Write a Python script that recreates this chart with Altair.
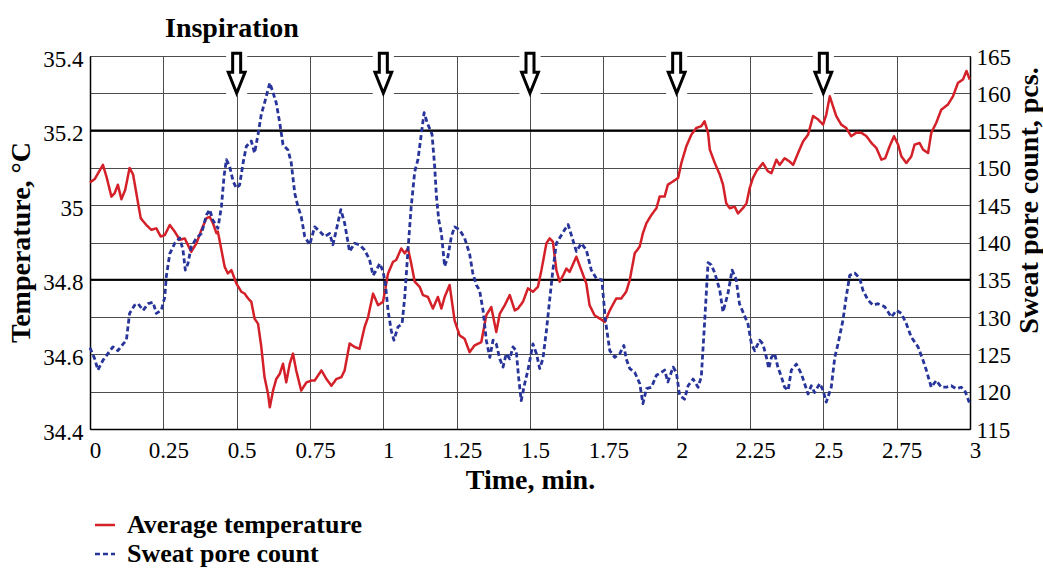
import altair as alt
import pandas as pd

# ---- average skin temperature (degC) over time (min) ----
temp_time = [
    0.000, 0.016, 0.044, 0.056, 0.073, 0.084, 0.095, 0.107, 0.120, 0.135,
    0.147, 0.164, 0.173, 0.192, 0.209, 0.226, 0.241, 0.255, 0.272, 0.289,
    0.306, 0.323, 0.345, 0.363, 0.380, 0.397, 0.408, 0.419, 0.431, 0.436,
    0.448, 0.459, 0.470, 0.482, 0.499, 0.516, 0.527, 0.539, 0.550, 0.561,
    0.573, 0.584, 0.595, 0.607, 0.613, 0.624, 0.635, 0.647, 0.658, 0.669,
    0.681, 0.692, 0.703, 0.720, 0.738, 0.755,
    0.766, 0.789, 0.806, 0.823, 0.840, 0.857, 0.868, 0.885, 0.902, 0.919,
    0.936, 0.948, 0.965, 0.982, 0.999, 1.016, 1.033, 1.044, 1.061, 1.073,
    1.084, 1.095, 1.107, 1.124, 1.135, 1.152, 1.169, 1.186, 1.198, 1.209,
    1.226, 1.243, 1.260, 1.277, 1.294, 1.311, 1.334, 1.351, 1.368, 1.385,
    1.397, 1.414, 1.431, 1.448, 1.459, 1.476, 1.493, 1.510,
    1.527, 1.539, 1.556, 1.567, 1.578, 1.590, 1.601, 1.613, 1.624, 1.635,
    1.658, 1.675, 1.692, 1.703, 1.720, 1.738, 1.755, 1.772, 1.794, 1.811,
    1.828, 1.840, 1.857, 1.874, 1.885, 1.897, 1.914, 1.931, 1.942, 1.959,
    1.970, 1.988, 2.005, 2.016, 2.033, 2.050, 2.067, 2.084, 2.095, 2.107,
    2.113, 2.130, 2.147, 2.158, 2.169, 2.181, 2.198, 2.209, 2.226, 2.238,
    2.249, 2.260,
    2.272, 2.294, 2.311, 2.323, 2.340, 2.351, 2.368, 2.385, 2.397, 2.414,
    2.431, 2.448, 2.465, 2.482, 2.499, 2.510, 2.522, 2.533, 2.544, 2.561,
    2.578, 2.595, 2.612, 2.630, 2.647, 2.664, 2.681, 2.698, 2.711, 2.726,
    2.741, 2.755, 2.766, 2.783, 2.800, 2.811, 2.828, 2.840, 2.857, 2.868,
    2.885, 2.902, 2.925, 2.942, 2.959, 2.976, 2.988, 2.999,
]
temp_value = [
    35.061, 35.070, 35.108, 35.077, 35.023, 35.032, 35.055, 35.016, 35.041, 35.100,
    35.082, 35.005, 34.965, 34.947, 34.934, 34.938, 34.916, 34.920, 34.947, 34.929,
    34.907, 34.911, 34.875, 34.898, 34.934, 34.965, 34.969, 34.952, 34.925, 34.929,
    34.880, 34.835, 34.817, 34.826, 34.790, 34.768, 34.763, 34.750, 34.741, 34.696,
    34.682, 34.620, 34.539, 34.494, 34.458, 34.503, 34.534, 34.548, 34.575, 34.525,
    34.575, 34.602, 34.557, 34.503, 34.525, 34.530,
    34.530, 34.557, 34.534, 34.516, 34.534, 34.539, 34.557, 34.629, 34.620, 34.615,
    34.673, 34.700, 34.763, 34.732, 34.741, 34.817, 34.848, 34.853, 34.884, 34.871,
    34.884, 34.844, 34.795, 34.781, 34.759, 34.754, 34.723, 34.754, 34.723, 34.754,
    34.786, 34.691, 34.651, 34.642, 34.606, 34.624, 34.633, 34.705, 34.727, 34.660,
    34.709, 34.732, 34.759, 34.718, 34.723, 34.741, 34.777, 34.768,
    34.781, 34.826, 34.898, 34.911, 34.902, 34.826, 34.795, 34.812, 34.830, 34.821,
    34.862, 34.826, 34.790, 34.732, 34.705, 34.696, 34.687, 34.718, 34.750, 34.750,
    34.768, 34.799, 34.871, 34.889, 34.925, 34.952, 34.974, 34.992, 35.023, 35.023,
    35.055, 35.064, 35.073, 35.113, 35.158, 35.189, 35.207, 35.212, 35.225, 35.194,
    35.149, 35.113, 35.082, 35.055, 35.005, 34.992, 34.996, 34.978, 34.992, 35.005,
    35.046, 35.073,
    35.091, 35.113, 35.091, 35.086, 35.122, 35.108, 35.126, 35.117, 35.108, 35.140,
    35.171, 35.189, 35.239, 35.230, 35.216, 35.243, 35.292, 35.265, 35.239, 35.216,
    35.207, 35.185, 35.194, 35.194, 35.185, 35.167, 35.153, 35.122, 35.126, 35.158,
    35.185, 35.162, 35.131, 35.113, 35.131, 35.162, 35.167, 35.149, 35.140, 35.194,
    35.221, 35.256, 35.270, 35.292, 35.328, 35.337, 35.360, 35.337,
]

# ---- sweat pore count (pcs.) over time (min) ----
pore_time = [
    0.000, 0.016, 0.027, 0.044, 0.061, 0.078, 0.095, 0.113, 0.124, 0.135,
    0.152, 0.164, 0.181, 0.198, 0.215, 0.226, 0.243, 0.255, 0.260, 0.272,
    0.289, 0.306, 0.317, 0.325, 0.334, 0.345, 0.363, 0.380, 0.397, 0.408,
    0.419, 0.436, 0.448, 0.457, 0.465, 0.476, 0.488, 0.499, 0.510, 0.522,
    0.533, 0.550, 0.561, 0.573, 0.584, 0.595, 0.613, 0.624, 0.635, 0.647,
    0.658, 0.675, 0.686, 0.698, 0.709, 0.720, 0.732, 0.749,
    0.766, 0.783, 0.800, 0.817, 0.828, 0.840, 0.855, 0.868, 0.885, 0.902,
    0.919, 0.936, 0.953, 0.965, 0.976, 0.988, 0.999, 1.007, 1.016, 1.027,
    1.036, 1.050, 1.064, 1.073, 1.084, 1.095, 1.107, 1.118, 1.130, 1.139,
    1.150, 1.166, 1.175, 1.181, 1.189, 1.198, 1.209, 1.220, 1.232, 1.243,
    1.260, 1.277, 1.294, 1.305, 1.317, 1.328, 1.340, 1.351, 1.363, 1.374,
    1.385, 1.397, 1.408, 1.419, 1.431, 1.442, 1.453, 1.461, 1.470, 1.482,
    1.493,
    1.510, 1.522, 1.533, 1.544, 1.556, 1.567, 1.578, 1.590, 1.601, 1.618,
    1.630, 1.641, 1.658, 1.675, 1.692, 1.709, 1.726, 1.745, 1.757, 1.772,
    1.789, 1.806, 1.820, 1.828, 1.840, 1.857, 1.874, 1.885, 1.897, 1.914,
    1.931, 1.948, 1.959, 1.970, 1.988, 1.999, 2.010, 2.027, 2.039, 2.056,
    2.073, 2.084, 2.095, 2.107, 2.118, 2.130, 2.147, 2.158, 2.175, 2.189,
    2.203, 2.214, 2.230, 2.243,
    2.255, 2.266, 2.283, 2.294, 2.306, 2.314, 2.323, 2.334, 2.345, 2.357,
    2.368, 2.380, 2.391, 2.408, 2.425, 2.436, 2.448, 2.459, 2.470, 2.488,
    2.499, 2.510, 2.527, 2.539, 2.550, 2.567, 2.578, 2.590, 2.607, 2.624,
    2.635, 2.652, 2.669, 2.686, 2.709, 2.732, 2.749, 2.766, 2.783, 2.800,
    2.823, 2.840, 2.851, 2.868, 2.885, 2.902, 2.919, 2.936, 2.953, 2.970,
    2.982, 2.999,
]
pore_value = [
    125.9, 124.4, 122.9, 124.2, 125.1, 126.0, 125.5, 126.4, 126.9, 130.5,
    131.6, 131.8, 130.9, 131.8, 132.0, 130.5, 130.9, 132.7, 135.4, 138.5,
    139.9, 140.6, 139.0, 136.3, 137.2, 139.4, 140.6, 141.2, 143.7, 144.4,
    143.0, 141.9, 144.8, 148.9, 151.1, 150.2, 148.2, 147.3, 147.7, 150.7,
    152.9, 153.6, 152.0, 154.5, 157.2, 158.7, 161.4, 160.1, 158.7, 156.0,
    153.1, 152.4, 150.7, 146.6, 144.8, 143.5, 140.8, 139.7,
    142.1, 141.5, 140.8, 141.2, 139.7, 141.7, 144.4, 142.6, 138.8, 139.9,
    139.7, 139.0, 137.7, 135.6, 136.3, 137.2, 136.1, 134.5, 130.9, 128.2,
    126.9, 128.7, 129.1, 132.7, 139.0, 144.8, 149.5, 151.1, 154.7, 157.4,
    156.0, 154.5, 150.2, 146.2, 143.0, 141.2, 136.8, 138.1, 140.8, 142.1,
    141.7, 140.6, 138.5, 135.9, 134.3, 133.6, 130.9, 126.9, 124.6, 126.9,
    126.4, 124.4, 123.3, 125.1, 124.4, 126.0, 125.5, 122.0, 118.8, 121.1,
    122.9,
    126.4, 125.1, 123.1, 124.4, 128.2, 132.3, 136.3, 139.9, 140.6, 141.7,
    142.4, 141.0, 138.8, 139.9, 139.0, 136.3, 135.2, 135.0, 129.6, 125.5,
    124.6, 125.1, 126.2, 124.4, 123.1, 122.6, 121.1, 118.4, 120.4, 120.6,
    122.2, 122.6, 122.9, 121.3, 123.3, 122.6, 119.5, 119.0, 120.8, 121.7,
    120.6, 122.0, 129.1, 137.3, 137.0, 135.9, 133.6, 130.7, 133.2, 136.3,
    135.0, 131.8, 130.3, 129.1,
    126.4, 125.5, 126.9, 126.4, 124.6, 123.1, 124.6, 125.1, 123.3, 122.0,
    120.6, 120.2, 122.9, 123.7, 122.4, 121.1, 119.7, 120.8, 119.9, 121.1,
    120.2, 118.6, 120.6, 124.6, 126.4, 129.6, 132.7, 135.6, 135.9, 135.2,
    133.6, 132.3, 131.6, 131.8, 131.4, 130.0, 130.9, 130.5, 129.1, 127.3,
    126.0, 124.2, 122.9, 120.6, 121.5, 120.6, 120.6, 120.8, 120.4, 120.6,
    120.2, 118.4,
]

# moments of inspiration (min)
inspiration_times = [0.5, 1.0, 1.5, 2.0, 2.5]

series_names = ["Average temperature", "Sweat pore count"]
series_colors = ["#d42028", "#27349a"]
series_dashes = [[1, 0], [5, 3]]

time_ticks = [0, 0.25, 0.5, 0.75, 1, 1.25, 1.5, 1.75, 2, 2.25, 2.5, 2.75, 3]
temp_ticks = [34.4, 34.5, 34.6, 34.7, 34.8, 34.9, 35.0, 35.1, 35.2, 35.3, 35.4]
pore_ticks = [115, 120, 125, 130, 135, 140, 145, 150, 155, 160, 165]
heavy_levels = [35.2, 34.8]

SERIF = "Liberation Serif, Times New Roman, serif"

temp_df = pd.DataFrame({"time": temp_time, "value": temp_value, "series": series_names[0]})
pore_df = pd.DataFrame({"time": pore_time, "value": pore_value, "series": series_names[1]})
insp_df = pd.DataFrame({"time": inspiration_times})
heavy_df = pd.DataFrame({"level": heavy_levels})

x_scale = alt.Scale(domain=[0, 3], nice=False, zero=False)
t_scale = alt.Scale(domain=[34.4, 35.4], nice=False, zero=False)
p_scale = alt.Scale(domain=[115, 165], nice=False, zero=False)

legend = alt.Legend(
    orient="none", legendX=2, legendY=456, title=None, direction="vertical",
    symbolType="stroke", symbolSize=400, symbolStrokeWidth=2.5,
    labelFont=SERIF, labelFontSize=26, labelFontWeight="bold", labelColor="black",
    labelOffset=9, rowPadding=3, padding=0, labelLimit=0,
)
color_enc = alt.Color("series:N", scale=alt.Scale(domain=series_names, range=series_colors), legend=legend)
dash_enc = alt.StrokeDash("series:N", scale=alt.Scale(domain=series_names, range=series_dashes), legend=legend)

# one shared time axis, repeated on every layer that uses x
x_axis = alt.Axis(
    values=time_ticks, labelExpr="format(datum.value, '.3~g')",
    title="Time, min.", grid=True,
    labelFont=SERIF, labelFontSize=23,
    labelPadding=10, labelOffset=5, titleY=59, titleBaseline="alphabetic",
)
X = dict(field="time", type="quantitative", scale=x_scale, axis=x_axis)

# heavy reference rules at 35.2 and 34.8 degC
heavy = alt.Chart(heavy_df).mark_rule(color="black", strokeWidth=2).encode(
    y=alt.Y("level:Q", scale=t_scale, axis=None)
)

# temperature curve on the left axis
temp_line = alt.Chart(temp_df).mark_line(strokeWidth=2.5, strokeJoin="round").encode(
    x=alt.X(**X),
    y=alt.Y(
        "value:Q", scale=t_scale,
        axis=alt.Axis(
            values=temp_ticks, grid=True,
            labelExpr="abs(round(datum.value * 10)) % 2 == 0 ? format(datum.value, '.3~g') : ''",
            labelFont=SERIF, labelFontSize=23,
            title="Temperature, °C", titleAngle=270, titleX=-61, titleY=186,
            titleBaseline="alphabetic", titleAlign="center",
            labelPadding=7, labelOffset=3,
        ),
    ),
    color=color_enc,
    strokeDash=dash_enc,
    order="time:Q",
)

# sweat pore count on the right axis
pore_line = alt.Chart(pore_df).mark_line(strokeWidth=2.8, strokeJoin="round").encode(
    x=alt.X(**X),
    y=alt.Y(
        "value:Q", scale=p_scale,
        axis=alt.Axis(
            orient="right", values=pore_ticks, labelExpr="format(datum.value, '.3~g')",
            grid=False, labelFont=SERIF, labelFontSize=23,
            title="Sweat pore count, pcs.", titleAngle=270, titleX=67, titleY=144,
            titleBaseline="alphabetic", titleAlign="center",
            labelPadding=6, labelOffset=1,
        ),
    ),
    color=color_enc,
    strokeDash=dash_enc,
    order="time:Q",
)

# white gaps in the top grid lines behind each arrow
gaps = alt.Chart(insp_df).transform_calculate(
    x_lo="datum.time - 0.036", x_hi="datum.time + 0.036"
).mark_rect(color="white").encode(
    x=alt.X("x_lo:Q", scale=x_scale, axis=x_axis),
    x2="x_hi:Q",
    y=alt.Y(datum=35.295, scale=t_scale, axis=None),
    y2=alt.Y2(datum=35.41),
)

# hollow down arrows marking each inspiration, tip on the 35.3 line
ARROW = "M-0.2,-2 L0.2,-2 L0.2,-1.05 L0.42,-1.05 L0,0 L-0.42,-1.05 L-0.2,-1.05 Z"
arrows = alt.Chart(insp_df).mark_point(
    shape=ARROW, size=1600, filled=True, fill="white", fillOpacity=1,
    stroke="black", strokeWidth=3, strokeOpacity=1, strokeJoin="miter",
).encode(
    x=alt.X(**X),
    y=alt.Y(datum=35.3, scale=t_scale, axis=None),
)

chart = (
    alt.layer(heavy, gaps, temp_line, pore_line, arrows)
    .resolve_scale(y="independent")
    .properties(
        width=880, height=373,
        padding={"left": 90, "top": 56, "right": 73, "bottom": 139},
        autosize=alt.AutoSizeParams(type="none"),
        title=alt.TitleParams(
            "Inspiration", anchor="start", frame="group", dx=75, offset=3,
            font=SERIF, fontSize=28, fontWeight="bold", color="black",
        ),
        background="white",
    )
    .configure_view(stroke="#555555", strokeWidth=1)
    .configure_axis(
        labelFont=SERIF, labelFontSize=23, labelColor="black",
        titleFont=SERIF, titleFontSize=28, titleFontWeight="bold", titleColor="black",
        ticks=False, domainColor="black", domainWidth=1.5,
        gridColor="#4d4d4d", gridWidth=1, gridOpacity=1,
        labelFlush=False, labelOverlap=False, labelBound=False,
    )
)

chart.save("out.html", embed_options={"renderer": "svg", "actions": False})
